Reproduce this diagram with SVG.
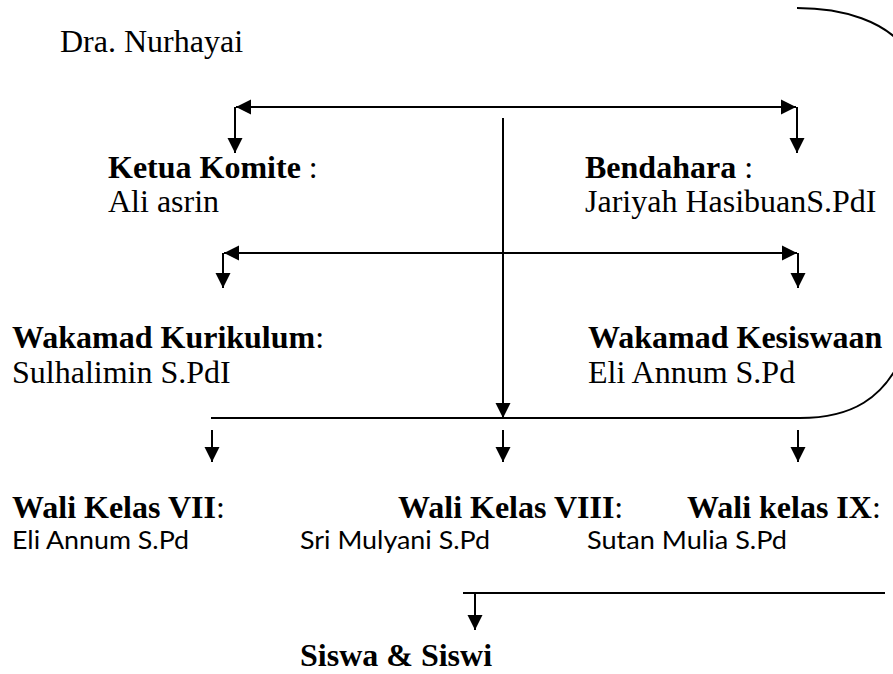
<svg xmlns="http://www.w3.org/2000/svg" width="893" height="674" viewBox="0 0 893 674">
<style>
.t{font-family:"Liberation Serif","Times New Roman",serif;font-size:32px;fill:#000}
.b{font-weight:bold}
.c{font-family:Lato,"Open Sans",sans-serif;font-size:25px;fill:#000}
.ln{stroke:#000;stroke-width:2;fill:none}
</style>
<defs>
<marker id="ah" markerUnits="userSpaceOnUse" markerWidth="16" markerHeight="16" refX="15" refY="7.5" orient="auto-start-reverse" viewBox="0 0 16 15">
<path d="M0,0 L15,7.5 L0,15 z" fill="#000"/>
</marker>
</defs>
<rect width="893" height="674" fill="#fff"/>
<g id="connectors">
<line class="ln" x1="236" y1="107" x2="796" y2="107" marker-start="url(#ah)" marker-end="url(#ah)"/>
<line class="ln" x1="235" y1="107" x2="235" y2="153" marker-end="url(#ah)"/>
<line class="ln" x1="797" y1="107" x2="797" y2="153" marker-end="url(#ah)"/>
<line class="ln" x1="503" y1="118" x2="503" y2="418" marker-end="url(#ah)"/>
<line class="ln" x1="224" y1="253" x2="797" y2="253" marker-start="url(#ah)" marker-end="url(#ah)"/>
<line class="ln" x1="223" y1="253" x2="223" y2="288" marker-end="url(#ah)"/>
<line class="ln" x1="798" y1="253" x2="798" y2="288" marker-end="url(#ah)"/>
<path class="ln" d="M797,8 C845,8 885,22 905,48 L905,350 C885,400 850,418 800,418 L211,418"/>
<line class="ln" x1="212" y1="430" x2="212" y2="462" marker-end="url(#ah)"/>
<line class="ln" x1="503" y1="430" x2="503" y2="462" marker-end="url(#ah)"/>
<line class="ln" x1="798" y1="430" x2="798" y2="462" marker-end="url(#ah)"/>
<line class="ln" x1="463" y1="593" x2="885" y2="593"/>
<line class="ln" x1="475" y1="593" x2="475" y2="630" marker-end="url(#ah)"/>
</g>
<g id="kepala"><text class="t" x="60" y="52">Dra. Nurhayai</text></g>
<g id="ketua"><text class="t" x="108" y="178"><tspan class="b">Ketua Komite</tspan> :</text><text class="t" x="108" y="212">Ali asrin</text></g>
<g id="bendahara"><text class="t" x="585" y="178"><tspan class="b">Bendahara</tspan> :</text><text class="t" x="585" y="212">Jariyah HasibuanS.PdI</text></g>
<g id="kurikulum"><text class="t" x="12" y="348"><tspan class="b">Wakamad Kurikulum</tspan>:</text><text class="t" x="12" y="383">Sulhalimin S.PdI</text></g>
<g id="kesiswaan"><text class="t" x="588" y="348"><tspan class="b">Wakamad Kesiswaan</tspan></text><text class="t" x="588" y="383">Eli Annum S.Pd</text></g>
<g id="wali7"><text class="t" x="12" y="518"><tspan class="b">Wali Kelas VII</tspan>:</text><text class="c" x="12" y="549" textLength="177" lengthAdjust="spacingAndGlyphs">Eli Annum S.Pd</text></g>
<g id="wali8"><text class="t" x="398" y="518"><tspan class="b">Wali Kelas VIII</tspan>:</text><text class="c" x="300" y="549" textLength="190" lengthAdjust="spacingAndGlyphs">Sri Mulyani S.Pd</text></g>
<g id="wali9"><text class="t" x="687" y="518"><tspan class="b">Wali kelas IX</tspan>:</text><text class="c" x="587" y="549" textLength="200" lengthAdjust="spacingAndGlyphs">Sutan Mulia S.Pd</text></g>
<g id="siswa"><text class="t b" x="300" y="666">Siswa &amp; Siswi</text></g>
</svg>
